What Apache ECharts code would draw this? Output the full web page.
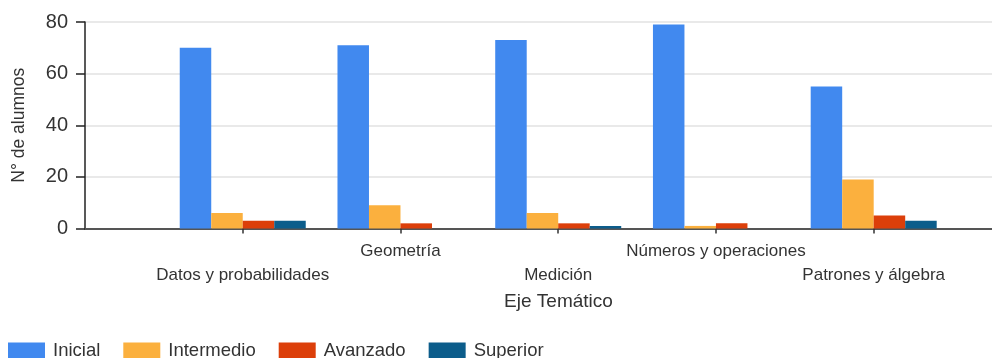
<!DOCTYPE html>
<html>
<head>
<meta charset="utf-8">
<script src="https://cdn.jsdelivr.net/npm/echarts@6/dist/echarts.min.js"></script>
<style>
  html, body { margin: 0; padding: 0; background: #fff; }
  #chart { width: 992px; height: 358px; }
</style>
</head>
<body>
<div id="chart"></div>
<script>
// Thematic axes, placed at positions 1..5 along the horizontal axis
const categories = ['Datos y probabilidades', 'Geometría', 'Medición', 'Números y operaciones', 'Patrones y álgebra'];

// Number of students per performance level
const inicial    = [70, 71, 73, 79, 55];
const intermedio = [6, 9, 6, 1, 19];
const avanzado   = [3, 2, 2, 2, 5];
const superior   = [3, 0, 1, 0, 3];

const yTicks = { min: 0, max: 80, interval: 20 };
// Visible span of the horizontal axis (it runs past the right edge)
const xSpan = { min: 0, max: 5.75, interval: 1 };

const FONT = "'Liberation Sans', Arial, sans-serif";
const TEXT = '#333';

const chart = echarts.init(document.getElementById('chart'), null, { renderer: 'canvas' });

function bar(name, values, color) {
  return {
    name, type: 'bar',
    data: values.map((v, i) => [i + 1, v]),
    barWidth: 31.5, barGap: '0%',
    itemStyle: { color },
    emphasis: { disabled: true }
  };
}

chart.setOption({
  animation: false,
  textStyle: { fontFamily: FONT },
  grid: { left: 85, right: 0, top: 22, bottom: 129.5, containLabel: false },
  legend: {
    left: 8, top: 341, padding: 0,
    icon: 'rect', itemWidth: 37, itemHeight: 16, itemGap: 23,
    textStyle: { fontSize: 18.5, color: TEXT, fontFamily: FONT, padding: [0, 0, 0, 3] },
    data: ['Inicial', 'Intermedio', 'Avanzado', 'Superior']
  },
  xAxis: {
    type: 'value',
    min: xSpan.min, max: xSpan.max, interval: xSpan.interval,
    name: 'Eje Temático',
    nameLocation: 'middle',
    nameGap: 63,
    // the full axis extends past the right edge, so its title sits right of the visible centre
    nameTextStyle: { fontSize: 19, color: TEXT, fontFamily: FONT, padding: [0, 0, 0, 40] },
    axisLine: { lineStyle: { color: '#555', width: 2 } },
    axisTick: { length: 5, lineStyle: { color: '#333', width: 1.5 } },
    axisLabel: {
      margin: 11,
      fontSize: 17,
      lineHeight: 24,
      color: TEXT,
      fontFamily: FONT,
      showMinLabel: false,
      showMaxLabel: false,
      formatter: (v) => {
        const i = Math.round(v) - 1;
        if (Math.abs(v - Math.round(v)) > 1e-6 || i < 0 || i >= categories.length) return '';
        // alternate rows so that long labels do not collide
        return i % 2 === 0 ? '\n' + categories[i] : categories[i];
      }
    },
    splitLine: { show: false }
  },
  yAxis: {
    type: 'value',
    min: yTicks.min, max: yTicks.max, interval: yTicks.interval,
    name: 'N° de alumnos',
    nameLocation: 'middle',
    nameGap: 57,
    nameTextStyle: { fontSize: 17.5, color: TEXT, fontFamily: FONT },
    axisLine: { show: true, lineStyle: { color: '#222', width: 1.5 } },
    axisTick: { show: true, length: 9, lineStyle: { color: '#222', width: 1.5 } },
    axisLabel: { fontSize: 20, color: TEXT, margin: 17, fontFamily: FONT },
    splitLine: { lineStyle: { color: '#e2e2e2', width: 1.5 } }
  },
  series: [
    bar('Inicial', inicial, '#4189ef'),
    bar('Intermedio', intermedio, '#fbb03e'),
    bar('Avanzado', avanzado, '#dc3f0a'),
    bar('Superior', superior, '#0c5d8b')
  ]
});
</script>
</body>
</html>
